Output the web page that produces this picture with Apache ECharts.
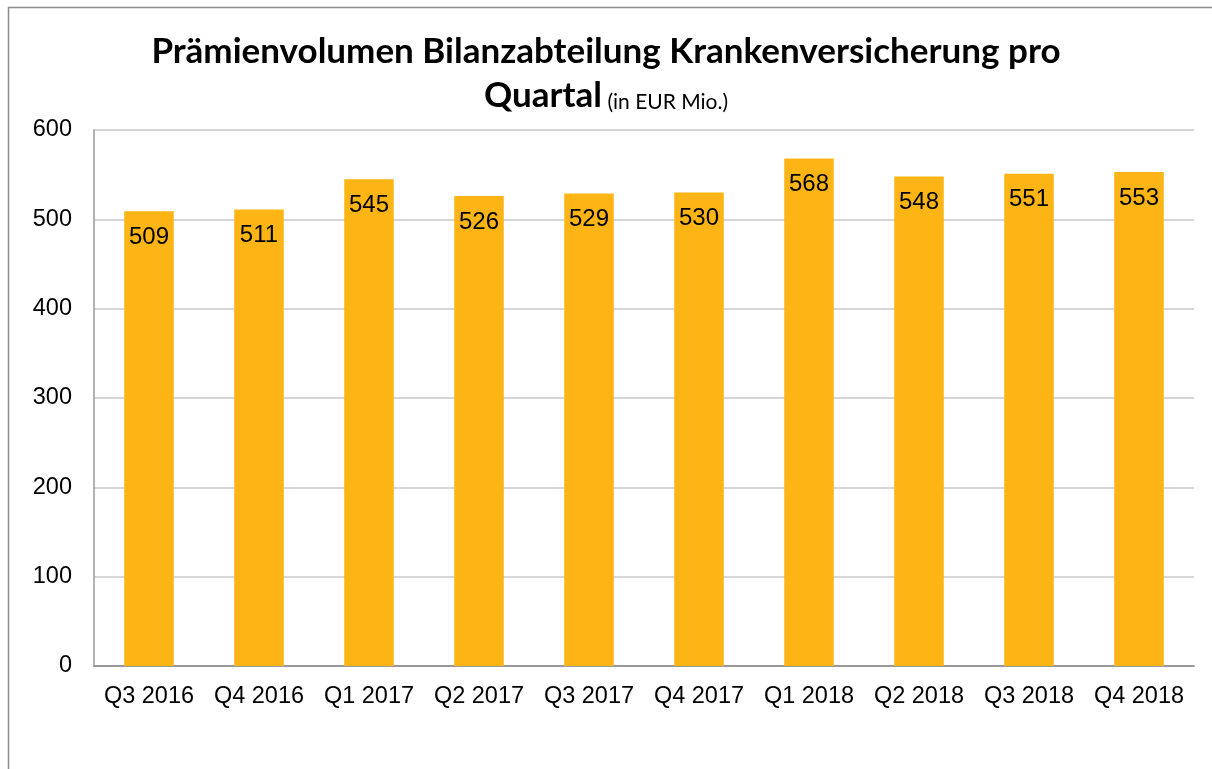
<!DOCTYPE html>
<html><head><meta charset="utf-8">
<script src="https://cdn.jsdelivr.net/npm/echarts@6/dist/echarts.min.js"></script>
<style>html,body{margin:0;padding:0;background:#fff}#c{width:1212px;height:769px}</style>
</head><body><div id="c"></div>
<script>
const categories = ['Q3 2016','Q4 2016','Q1 2017','Q2 2017','Q3 2017','Q4 2017','Q1 2018','Q2 2018','Q3 2018','Q4 2018'];
const values = [509, 511, 545, 526, 529, 530, 568, 548, 551, 553];
const titleLine1 = 'Prämienvolumen Bilanzabteilung Krankenversicherung pro';
const titleLine2 = 'Quartal';
const titleUnit = '(in EUR Mio.)';

const chart = echarts.init(document.getElementById('c'), null, {renderer:'canvas'});
chart.setOption({
  animation: false,
  backgroundColor: '#fff',
  graphic: [{
    type: 'rect', shape: {x: 8.5, y: 7.5, width: 1300, height: 900},
    style: {fill: 'none', stroke: '#8c8c8c', lineWidth: 1.5}, silent: true, z: -1
  }],
  title: {
    text: '{a|' + titleLine1 + '}\n{a|' + titleLine2 + '}{b| ' + titleUnit + '}',
    left: 'center', top: 20,
    textStyle: {
      fontWeight: 'normal',
      rich: {
        a: {fontFamily: 'Lato', fontWeight: 'bold', fontSize: 35, color: '#000', lineHeight: 44, verticalAlign: 'bottom'},
        b: {fontFamily: 'Lato', fontWeight: 'normal', fontSize: 21, color: '#000', lineHeight: 41, verticalAlign: 'bottom'}
      }
    }
  },
  grid: {left: 94, right: 18, top: 130, bottom: 103, containLabel: false},
  xAxis: {
    type: 'category', data: categories,
    axisLine: {lineStyle: {color: '#999', width: 2}},
    axisTick: {show: false},
    axisLabel: {interval: 0, fontFamily: 'Liberation Sans', fontSize: 23.5, color: '#000', margin: 19}
  },
  yAxis: {
    type: 'value', min: 0, max: 600, interval: 100,
    axisLine: {show: true, lineStyle: {color: '#999', width: 1.5}},
    axisTick: {show: false},
    axisLabel: {fontFamily: 'Liberation Sans', fontSize: 23.5, color: '#000', margin: 22},
    splitLine: {lineStyle: {color: '#c8c8c8', width: 1.5}}
  },
  series: [{
    type: 'bar', data: values, barWidth: '45%',
    itemStyle: {color: '#FDB515'},
    label: {show: true, position: 'insideTop', distance: 14, fontFamily: 'Liberation Sans', fontSize: 24, color: '#000'}
  }]
});
</script></body></html>
